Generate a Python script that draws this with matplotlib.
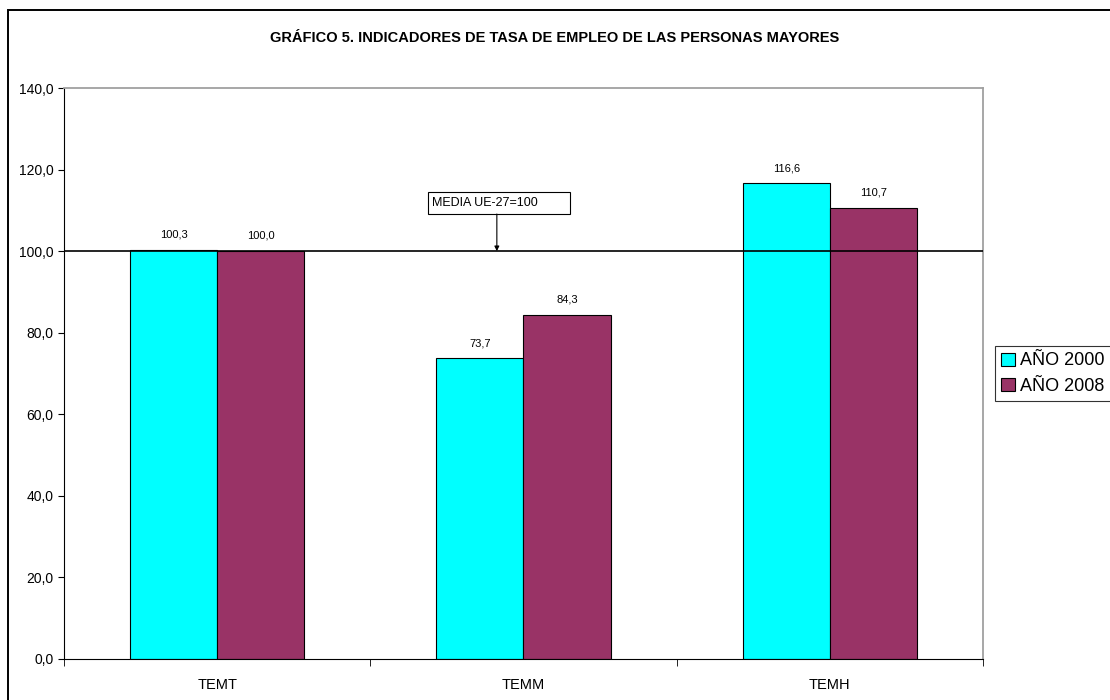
import matplotlib
matplotlib.use('Agg')
import matplotlib.pyplot as plt
import numpy as np
from matplotlib.patches import Rectangle

# Datos
categorias = ['TEMT', 'TEMM', 'TEMH']
anio_2000 = [100.3, 73.7, 116.6]
anio_2008 = [100.0, 84.3, 110.7]
series = ['AÑO 2000', 'AÑO 2008']
colores = ['#00FFFF', '#993366']

plt.rcParams['font.family'] = ['Liberation Sans', 'DejaVu Sans']

fig = plt.figure(figsize=(11.1, 7.0), dpi=100)
ax = fig.add_axes([64 / 1110, 41 / 700, 919 / 1110, 571 / 700])

# marco exterior del grafico (se sale por la derecha y por abajo)
fig.patches.append(Rectangle((8 / 1110, -0.1), 1.2, 1.1 - 10 / 700, transform=fig.transFigure,
                             fill=False, edgecolor='black', linewidth=1.4))

x = np.arange(len(categorias))
ancho = 0.285
b1 = ax.bar(x - ancho / 2, anio_2000, ancho, color=colores[0], edgecolor='black',
            linewidth=0.8, label=series[0], zorder=2)
b2 = ax.bar(x + ancho / 2, anio_2008, ancho, color=colores[1], edgecolor='black',
            linewidth=0.8, label=series[1], zorder=2)

for barras in (b1, b2):
    for b in barras:
        ax.text(b.get_x() + b.get_width() / 2, b.get_height() + 2.5,
                f'{b.get_height():.1f}'.replace('.', ','), ha='center', va='bottom', fontsize=8)

ax.axhline(100, color='black', linewidth=1.2, zorder=3)

# cuadro de la media UE-27 con flecha
ax.add_patch(Rectangle((0.688, 109.1), 0.464, 5.4, facecolor='white', edgecolor='black',
                       linewidth=0.8, zorder=4))
ax.text(0.70, 111.8, 'MEDIA UE-27=100', fontsize=9, ha='left', va='center', zorder=5)
ax.annotate('', xy=(0.913, 100), xytext=(0.913, 109.1),
            arrowprops=dict(arrowstyle='-|>', color='black', lw=0.8, mutation_scale=7,
                            shrinkA=0, shrinkB=0), zorder=4)

ax.set_xlim(-0.5, 2.5)
ax.set_ylim(0, 140)
ax.set_yticks(np.arange(0, 141, 20))
ax.set_yticklabels([f'{v:.1f}'.replace('.', ',') for v in np.arange(0, 141, 20)], fontsize=10)
ax.set_xticks(x)
ax.set_xticklabels(categorias, fontsize=10.5)
ax.set_xticks([-0.5, 0.5, 1.5, 2.5], minor=True)
ax.tick_params(axis='x', which='major', length=0, pad=14)
ax.tick_params(axis='x', which='minor', length=5, direction='out')
ax.tick_params(axis='y', length=4, direction='out')

for lado in ['top', 'right']:
    ax.spines[lado].set_color('#A0A0A0')
    ax.spines[lado].set_linewidth(1.3)
for lado in ['left', 'bottom']:
    ax.spines[lado].set_color('black')

fig.text(0.5, 0.946, 'GRÁFICO 5. INDICADORES DE TASA DE EMPLEO DE LAS PERSONAS MAYORES',
         ha='center', va='center', fontsize=10.5, fontweight='bold')

leg = ax.legend(loc='center left', bbox_to_anchor=(1.013, 0.5), fontsize=13, frameon=True,
                fancybox=False, edgecolor='black', handlelength=0.75, handleheight=0.75,
                handletextpad=0.3, borderpad=0.35, labelspacing=0.45, borderaxespad=0)
leg.get_frame().set_linewidth(0.8)

fig.savefig('out.png', dpi=100)
